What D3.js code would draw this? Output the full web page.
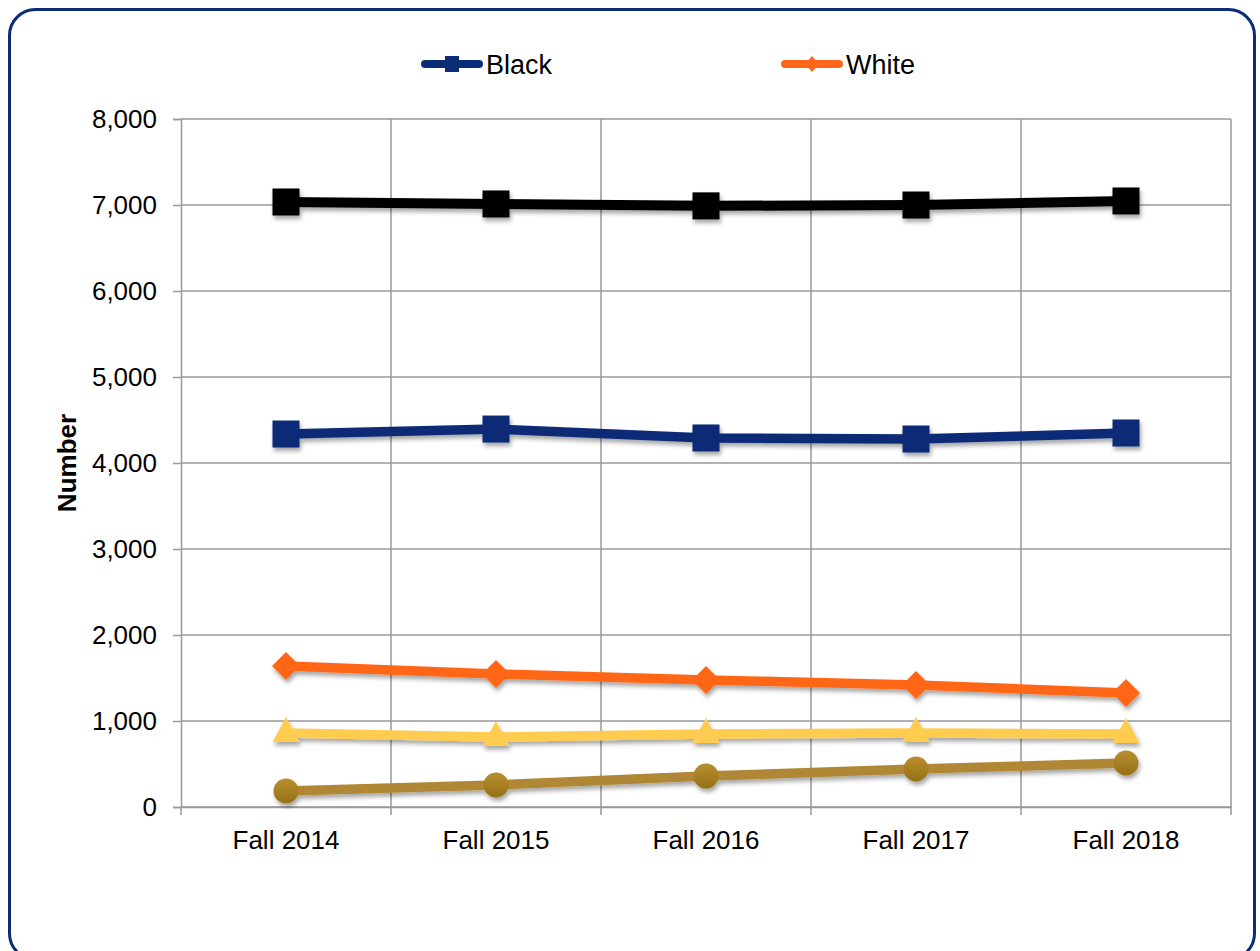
<!DOCTYPE html>
<html>
<head>
<meta charset="utf-8">
<script src="https://cdn.jsdelivr.net/npm/d3@7"></script>
<style>
  body { margin: 0; background: #fff; }
  svg { display: block; font-family: "Liberation Sans", Arial, sans-serif; }
</style>
</head>
<body>
<script>
  // Chart data
  const categories = ['Fall 2014', 'Fall 2015', 'Fall 2016', 'Fall 2017', 'Fall 2018']
  const blackMarkers = [7035, 7012, 6990, 7000, 7047]
  const navyValues = [4337, 4395, 4291, 4279, 4349]
  const orangeValues = [1640, 1547, 1477, 1419, 1326]
  const yellowValues = [860, 814, 849, 860, 849]
  const goldValues = [186, 256, 360, 442, 512]
  const yTicks = [0, 1000, 2000, 3000, 4000, 5000, 6000, 7000, 8000]
  const legendNames = ['Black', 'White']

  const width = 1260
  const height = 951
  const margin = { left: 181, right: 29, top: 119, bottom: 144 }
  const fontSize = 26

  const svg = d3.select(document.body)
    .append('svg')
    .attr('width', width)
    .attr('height', height)

  const defs = svg.append('defs')

  // Soft drop shadow used under lines and markers
  const shadow = defs.append('filter')
    .attr('id', 'shadow')
    .attr('x', '-20%').attr('y', '-20%')
    .attr('width', '140%').attr('height', '160%')
  shadow.append('feDropShadow')
    .attr('dx', 1.5).attr('dy', 3.5)
    .attr('stdDeviation', 2)
    .attr('flood-color', '#000')
    .attr('flood-opacity', 0.35)

  const goldGrad = defs.append('linearGradient')
    .attr('id', 'goldGrad')
    .attr('x1', 0).attr('y1', 0).attr('x2', 0).attr('y2', 1)
  goldGrad.append('stop').attr('offset', '0%').attr('stop-color', '#B88F30')
  goldGrad.append('stop').attr('offset', '100%').attr('stop-color', '#967016')

  // Outer rounded border
  svg.append('rect')
    .attr('x', 9.5).attr('y', 9.5)
    .attr('width', 1245).attr('height', 950)
    .attr('rx', 26)
    .attr('fill', '#fff')
    .attr('stroke', '#0B2C77')
    .attr('stroke-width', 3)

  const x = d3.scaleBand()
    .domain(categories)
    .range([margin.left, width - margin.right])

  const y = d3.scaleLinear()
    .domain([0, 8000])
    .range([height - margin.bottom, margin.top])

  const cx = (d, i) => x(categories[i]) + x.bandwidth() / 2

  // Gridlines
  const grid = svg.append('g')
  grid.selectAll('.hgrid')
    .data(yTicks)
    .enter()
    .append('line')
    .attr('x1', margin.left)
    .attr('x2', width - margin.right)
    .attr('y1', (d) => y(d))
    .attr('y2', (d) => y(d))
    .attr('stroke', '#999')
    .attr('stroke-width', 1.5)

  grid.selectAll('.vgrid')
    .data(categories)
    .enter()
    .append('line')
    .attr('x1', (d) => x(d) + x.bandwidth())
    .attr('x2', (d) => x(d) + x.bandwidth())
    .attr('y1', margin.top)
    .attr('y2', height - margin.bottom)
    .attr('stroke', '#999')
    .attr('stroke-width', 1.5)

  // Y axis
  const yAxis = svg.append('g')
    .attr('transform', `translate(${margin.left},0)`)
    .call(d3.axisLeft(y).tickValues(yTicks).tickFormat(d3.format(',')).tickSize(8).tickPadding(16))
  yAxis.selectAll('path, line').attr('stroke', '#999').attr('stroke-width', 1.5)
  yAxis.selectAll('text').attr('font-size', fontSize).attr('fill', '#000').attr('font-family', null)

  // X axis
  const xAxis = svg.append('g')
    .attr('transform', `translate(0,${height - margin.bottom})`)
    .call(d3.axisBottom(x).tickSize(0).tickPadding(24))
  xAxis.select('.domain').attr('stroke', '#999').attr('stroke-width', 1.5)
  xAxis.selectAll('text').attr('font-size', fontSize).attr('fill', '#000').attr('font-family', null)
  // boundary tick marks below the axis
  xAxis.selectAll('.btick')
    .data([categories[0], ...categories])
    .enter()
    .append('line')
    .attr('x1', (d, i) => (i === 0 ? x(d) : x(d) + x.bandwidth()))
    .attr('x2', (d, i) => (i === 0 ? x(d) : x(d) + x.bandwidth()))
    .attr('y1', 0)
    .attr('y2', 8)
    .attr('stroke', '#999')
    .attr('stroke-width', 1.5)

  // Y title
  svg.append('text')
    .attr('transform', `translate(76,${(margin.top + height - margin.bottom) / 2}) rotate(-90)`)
    .attr('text-anchor', 'middle')
    .attr('font-size', fontSize)
    .attr('font-weight', 'bold')
    .text('Number')

  const line = d3.line().x(cx).y((d) => y(d))

  function drawSeries(values, color, lineWidth, marker) {
    const g = svg.append('g').attr('filter', 'url(#shadow)')
    g.append('path')
      .datum(values)
      .attr('d', line)
      .attr('fill', 'none')
      .attr('stroke', color)
      .attr('stroke-width', lineWidth)
      .attr('stroke-linejoin', 'round')
    g.selectAll('.m')
      .data(values)
      .enter()
      .append('path')
      .attr('transform', (d, i) => `translate(${cx(d, i)},${y(d)})`)
      .attr('d', marker.path)
      .attr('fill', marker.fill || color)
  }

  const sq = d3.symbol().type(d3.symbolSquare).size(27 * 27)()
  const diamond = 'M0,-14L14,0L0,14L-14,0Z'
  const tri = 'M0,-16L13.5,9L-13.5,9Z'
  const circ = d3.symbol().type(d3.symbolCircle).size(Math.PI * 12.5 * 12.5)()

  drawSeries(goldValues, '#B08835', 9.5, { path: circ, fill: 'url(#goldGrad)' })
  drawSeries(yellowValues, '#FFCC50', 9.5, { path: tri })
  drawSeries(orangeValues, '#FF6619', 9.5, { path: diamond })
  drawSeries(navyValues, '#0B2C77', 9.5, { path: sq })
  drawSeries(blackMarkers, '#000', 10, { path: sq })

  // Legend
  const legend = svg.append('g')
  const legendItems = [
    { name: legendNames[0], color: '#0B2C77', x: 425, marker: 'M-7,-8H7V8H-7Z' },
    { name: legendNames[1], color: '#FF6619', x: 785, marker: 'M0,-8L7,0L0,8L-7,0Z' },
  ]
  const li = legend.selectAll('g')
    .data(legendItems)
    .enter()
    .append('g')
    .attr('transform', (d) => `translate(${d.x},64)`)
  li.append('line')
    .attr('x1', 0).attr('x2', 54)
    .attr('stroke', (d) => d.color)
    .attr('stroke-width', 8)
    .attr('stroke-linecap', 'round')
  li.append('path')
    .attr('transform', 'translate(27,0)')
    .attr('d', (d) => d.marker)
    .attr('fill', (d) => d.color)
  li.append('text')
    .attr('x', 61)
    .attr('dy', '0.36em')
    .attr('font-size', 27)
    .text((d) => d.name)
</script>
</body>
</html>
